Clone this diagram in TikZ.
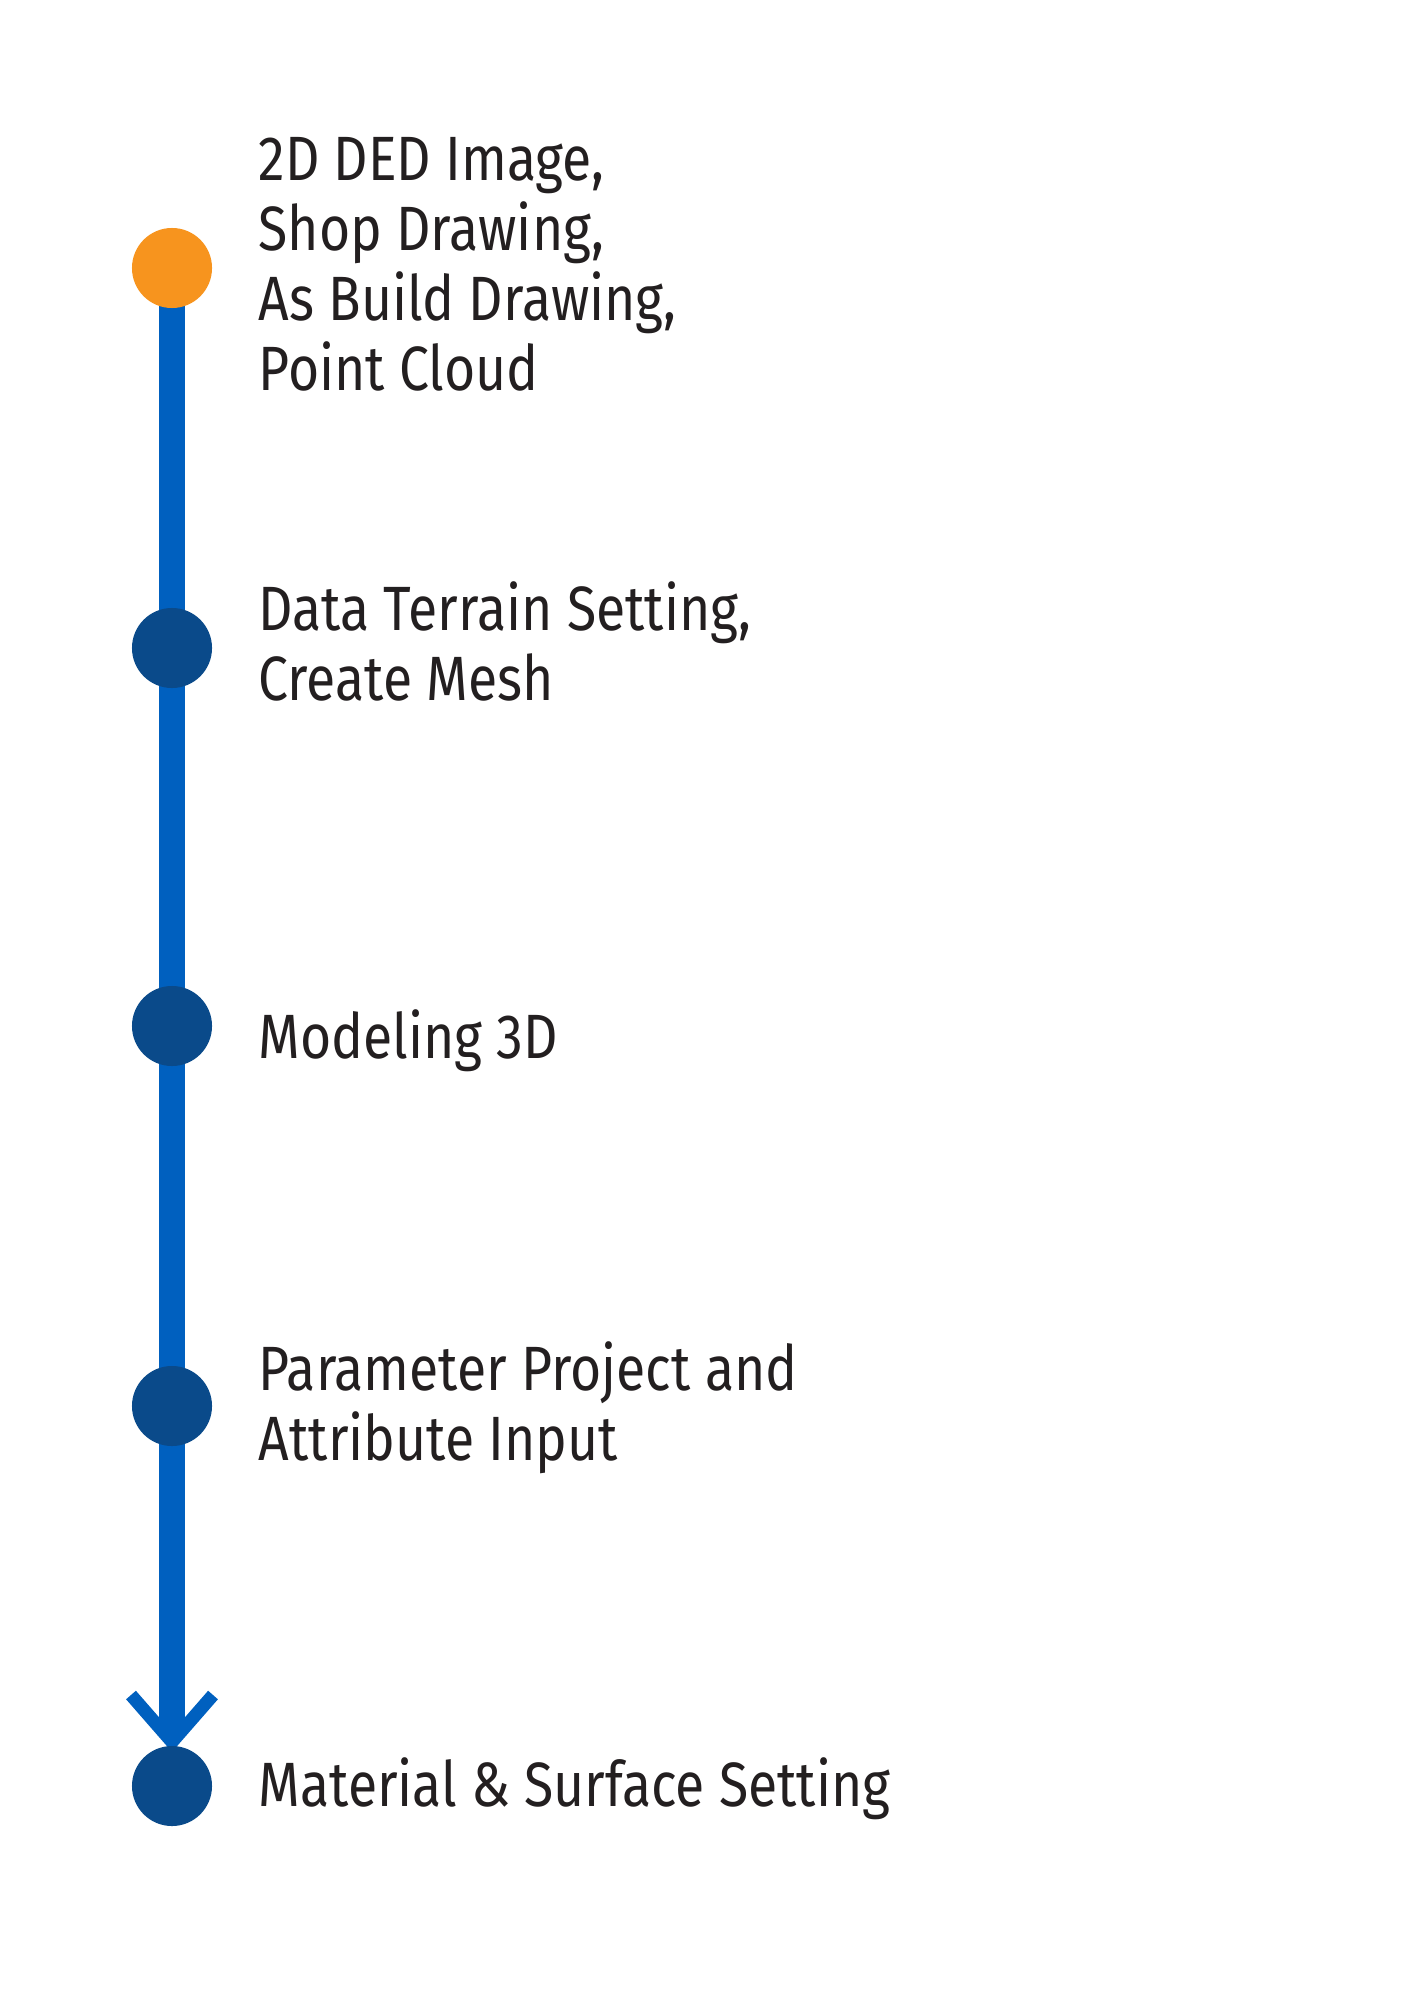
\documentclass[tikz,border=0pt]{standalone}
\usepackage{fontspec}
\setmainfont{Fira Sans}[FakeStretch=0.855]
\definecolor{lineblue}{HTML}{0060BF}
\definecolor{dotblue}{HTML}{0A4A8A}
\definecolor{dotorange}{HTML}{F7941E}
\definecolor{txt}{HTML}{231F20}
\begin{document}
\begin{tikzpicture}[x=0.01cm,y=-0.01cm,
  dot/.style={circle, fill=dotblue, minimum size=0.8cm, inner sep=0pt},
  lbl/.style={anchor=base west, inner sep=0pt, text=txt, font=\fontsize{17.8}{20}\selectfont},
  spine/.style={line width=0.25cm, draw=lineblue},
  chev/.style={line width=0.13cm, draw=lineblue, miter limit=10}]
\useasboundingbox[fill=white] (0,0) rectangle (1414,2000);
% circle positions
\coordinate (p1) at (172,268);
\coordinate (p2) at (172,648);
\coordinate (p3) at (172,1026);
\coordinate (p4) at (172,1406);
\coordinate (p5) at (172,1786);
% spine and arrow
\coordinate (lineend) at (172,1736);
\coordinate (tip) at (172,1742);
\coordinate (armL) at (131,1695);
\coordinate (armR) at (213,1695);
\draw[spine] (p1) -- (lineend);
\draw[chev] (armL) -- (tip) -- (armR);
% circles on top
\node[dot, fill=dotorange] (c1) at (p1) {};
\node[dot] (c2) at (p2) {};
\node[dot] (c3) at (p3) {};
\node[dot] (c4) at (p4) {};
\node[dot] (c5) at (p5) {};
% labels
\node[lbl] (t1a) at (258,180) {2D DED Image,};
\node[lbl] (t1b) at (258,250) {Shop Drawing,};
\node[lbl] (t1c) at (258,320) {As Build Drawing,};
\node[lbl] (t1d) at (258,390) {Point Cloud};
\node[lbl] (t2a) at (258,630) {Data Terrain Setting,};
\node[lbl] (t2b) at (258,700) {Create Mesh};
\node[lbl] (t3a) at (258,1058) {Modeling 3D};
\node[lbl] (t4a) at (258,1390) {Parameter Project and};
\node[lbl] (t4b) at (258,1460) {Attribute Input};
\node[lbl] (t5a) at (258,1806) {Material \& Surface Setting};
\end{tikzpicture}
\end{document}
